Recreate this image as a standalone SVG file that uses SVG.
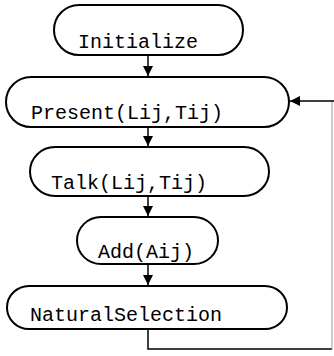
<svg xmlns="http://www.w3.org/2000/svg" width="334" height="356" viewBox="0 0 334 356">
<style>
.box{fill:#fff;stroke:#000;stroke-width:2}
.lbl{font-family:"Liberation Mono","Courier New",monospace;font-size:20px;fill:#000}
.con{fill:none;stroke:#000;stroke-width:1.5}
</style>
<defs>
<marker id="ah" viewBox="0 0 10 10" refX="10" refY="5" markerWidth="10" markerHeight="10" markerUnits="userSpaceOnUse" orient="auto">
<path d="M0,0 L10,5 L0,10 Z" fill="#000"/>
</marker>
</defs>
<rect width="334" height="356" fill="#fff"/>
<g id="connectors">
<line class="con" x1="148" y1="55" x2="148" y2="76" marker-end="url(#ah)"/>
<line class="con" x1="148" y1="127" x2="148" y2="146" marker-end="url(#ah)"/>
<line class="con" x1="148" y1="196" x2="148" y2="216" marker-end="url(#ah)"/>
<line class="con" x1="148" y1="264" x2="148" y2="285" marker-end="url(#ah)"/>
<path class="con" d="M148,329 V349 H332"/>
<line x1="332" y1="349" x2="332" y2="101" stroke="#aaa" stroke-width="1.2"/>
<line class="con" x1="334" y1="101" x2="290" y2="101" marker-end="url(#ah)"/>
</g>
<g id="initialize">
<rect class="box" x="54" y="5" width="189" height="50" rx="25" ry="25"/>
<text class="lbl" x="78" y="48">Initialize</text>
</g>
<g id="present">
<rect class="box" x="6" y="77" width="283" height="50" rx="25" ry="25"/>
<text class="lbl" x="31" y="119">Present(Lij,Tij)</text>
</g>
<g id="talk">
<rect class="box" x="30" y="147" width="239" height="49" rx="25" ry="24.5"/>
<text class="lbl" x="51" y="189">Talk(Lij,Tij)</text>
</g>
<g id="add">
<rect class="box" x="77" y="217" width="141" height="47" rx="24" ry="23.5"/>
<text class="lbl" x="98" y="258">Add(Aij)</text>
</g>
<g id="naturalselection">
<rect class="box" x="7" y="286" width="280" height="43" rx="22" ry="21.5"/>
<text class="lbl" x="30" y="321">NaturalSelection</text>
</g>
</svg>
